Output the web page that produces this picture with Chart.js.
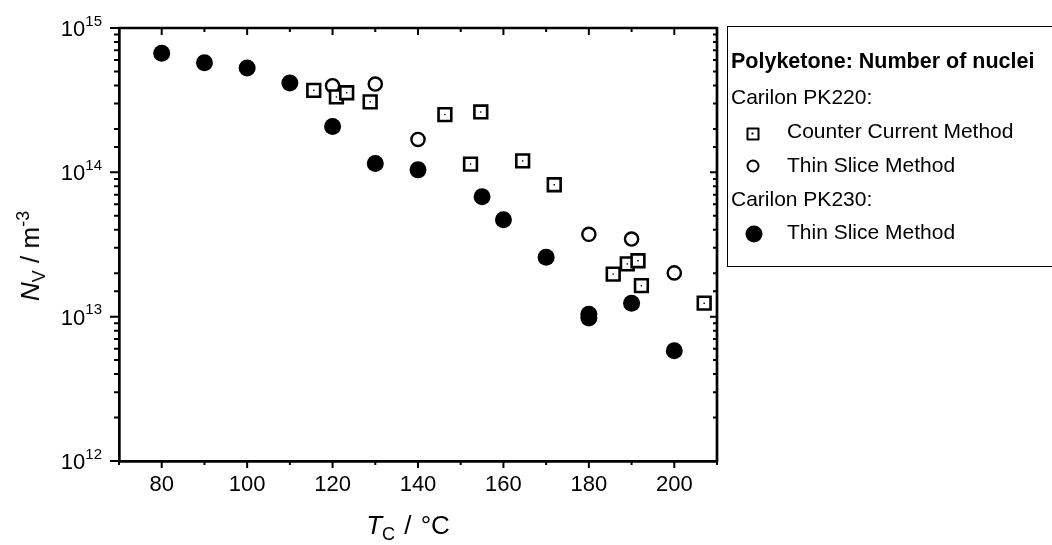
<!DOCTYPE html>
<html>
<head>
<meta charset="utf-8">
<script src="https://cdn.jsdelivr.net/npm/chart.js@4.4.1/dist/chart.umd.min.js"></script>
<style>
  html, body { margin: 0; padding: 0; background: #fff; overflow: hidden; }
  #wrap { position: relative; width: 1052px; height: 545px; font-family: 'Liberation Sans', Arial, Helvetica, sans-serif; color: #000; }
  #chart { position: absolute; left: 0; top: 0; }
  .txt { position: absolute; line-height: 1; white-space: nowrap; transform: translateY(-50%); font-size: 21px; }
  .legbox { position: absolute; left: 727px; top: 26px; width: 340px; height: 239px;
            border: 1.5px solid #000; border-right: none; }
  .mk { position: absolute; transform: translate(-50%, -50%); box-sizing: border-box; }
  .sq { width: 13px; height: 13px; border: 2.5px solid #000; border-radius: 1px; background: #fff; }
  .sq::after { content: ''; position: absolute; left: 3px; top: 3px; width: 2px; height: 2px; background: #000; }
  .oc { width: 13px; height: 13px; border: 2.3px solid #000; border-radius: 50%; }
  .fc { width: 17px; height: 17px; border-radius: 50%; background: #000; }
  .ytitle { position: absolute; left: 30px; top: 256px; font-size: 26px; white-space: nowrap; line-height: 1;
            transform: translate(-50%, -50%) rotate(-90deg); }
  .xtitle { position: absolute; left: 408px; top: 525px; font-size: 26px; white-space: nowrap; line-height: 1;
            transform: translate(-50%, -50%); word-spacing: 2px; }
  sub, sup { font-size: 18px; line-height: 0; }
</style>
</head>
<body>
<div id="wrap">
  <canvas id="chart" width="1052" height="545"></canvas>

  <div class="ytitle"><i>N</i><sub>V</sub> / m<sup>-3</sup></div>
  <div class="xtitle"><i>T</i><sub>C</sub> / °C</div>

  <div class="legbox"></div>
  <div class="txt" style="left:731px; top:62px; font-weight:bold; font-size:21.5px;">Polyketone: Number of nuclei</div>
  <div class="txt" style="left:731px; top:96px;">Carilon PK220:</div>
  <div class="mk sq" style="left:753px; top:134px;"></div>
  <div class="txt" style="left:787px; top:130px;">Counter Current Method</div>
  <div class="mk oc" style="left:753px; top:166px;"></div>
  <div class="txt" style="left:787px; top:164px;">Thin Slice Method</div>
  <div class="txt" style="left:731px; top:198px;">Carilon PK230:</div>
  <div class="mk fc" style="left:754px; top:234px;"></div>
  <div class="txt" style="left:787px; top:231px;">Thin Slice Method</div>
</div>

<script>
// PK220, counter current method (squares)
const ccTemp = [115.6, 120.9, 123.3, 128.8, 146.3, 152.3, 154.7, 164.5, 171.9, 185.7, 189.0, 191.5, 192.3, 207.0];
const ccNuclei = [3.70e14, 3.33e14, 3.56e14, 3.08e14, 2.51e14, 1.14e14, 2.62e14, 1.20e14, 8.2e13, 1.97e13, 2.32e13, 2.44e13, 1.64e13, 1.24e13];

// PK220, thin slice method (open circles)
const ts220Temp = [120, 130, 140, 180, 190, 200];
const ts220Nuclei = [3.98e14, 4.09e14, 1.69e14, 3.72e13, 3.45e13, 2.01e13];

// PK230, thin slice method (filled circles)
const ts230Temp = [80, 90, 100, 110, 120, 130, 140, 155, 160, 170, 180, 180, 190, 200];
const ts230Nuclei = [6.68e14, 5.75e14, 5.28e14, 4.16e14, 2.08e14, 1.15e14, 1.04e14, 6.78e13, 4.7e13, 2.58e13, 1.04e13, 0.98e13, 1.24e13, 5.8e12];

const xTicksMajor = [80, 100, 120, 140, 160, 180, 200];
const yDecades = [12, 13, 14, 15];

const FONT = "'Liberation Sans', Arial, Helvetica, sans-serif";

function pts(xs, ys) {
  return xs.map((x, i) => ({x: x, y: ys[i]}));
}

function decadeOf(v) {
  let e = Math.round(Math.log10(v));
  return Math.abs(Math.pow(10, e) - v) / v < 1e-6 ? e : null;
}

// frame on top/right, tick marks, and 10^n labels with raised exponent
const frameTicks = {
  id: 'frameTicks',
  afterDraw(chart) {
    let ctx = chart.ctx;
    let a = chart.chartArea;
    let x = chart.scales.x, y = chart.scales.y;
    ctx.save();
    ctx.strokeStyle = '#000';
    ctx.lineWidth = 2.7;
    ctx.beginPath();
    ctx.moveTo(a.left - 1, a.top);
    ctx.lineTo(a.right, a.top);
    ctx.lineTo(a.right, a.bottom + 1);
    ctx.stroke();

    ctx.lineWidth = 2;
    ctx.beginPath();
    x.ticks.forEach(t => {
      let px = x.getPixelForValue(t.value);
      let len = xTicksMajor.includes(t.value) ? 7 : 4;
      ctx.moveTo(px, a.bottom); ctx.lineTo(px, a.bottom + len);
      ctx.moveTo(px, a.top); ctx.lineTo(px, a.top + len);
    });
    y.ticks.forEach(t => {
      let py = y.getPixelForValue(t.value);
      let major = yDecades.includes(decadeOf(t.value));
      ctx.moveTo(a.left - (major ? 9 : 5), py); ctx.lineTo(a.left, py);
      ctx.moveTo(a.right - (major ? 7 : 4), py); ctx.lineTo(a.right, py);
    });
    ctx.stroke();

    // y labels
    ctx.fillStyle = '#000';
    ctx.textBaseline = 'alphabetic';
    yDecades.forEach(e => {
      let py = y.getPixelForValue(Math.pow(10, e));
      let right = a.left - 17;
      ctx.font = '15px ' + FONT;
      let ew = ctx.measureText(String(e)).width;
      ctx.textAlign = 'left';
      ctx.fillText(String(e), right - ew, py - 2.5);
      ctx.font = '22px ' + FONT;
      ctx.textAlign = 'right';
      ctx.fillText('10', right - ew, py + 8);
    });
    ctx.restore();
  }
};

let ctx = document.getElementById('chart').getContext('2d');
let chart = new Chart(ctx, {
  type: 'scatter',
  data: {
    datasets: [
      {
        label: 'dots',
        data: pts(ccTemp, ccNuclei),
        pointStyle: 'rect',
        pointRadius: 1,
        backgroundColor: '#000',
        borderWidth: 0,
        order: 0
      },
      {
        label: 'Counter Current Method',
        data: pts(ccTemp, ccNuclei),
        pointStyle: 'rect',
        pointRadius: 9,
        backgroundColor: '#fff',
        borderColor: '#000',
        borderWidth: 2.6,
        order: 1
      },
      {
        label: 'Thin Slice Method (PK220)',
        data: pts(ts220Temp, ts220Nuclei),
        pointStyle: 'circle',
        pointRadius: 6.6,
        backgroundColor: '#fff',
        borderColor: '#000',
        borderWidth: 2.4,
        order: 2
      },
      {
        label: 'Thin Slice Method (PK230)',
        data: pts(ts230Temp, ts230Nuclei),
        pointStyle: 'circle',
        pointRadius: 8.5,
        backgroundColor: '#000',
        borderColor: '#000',
        borderWidth: 0,
        order: 3
      }
    ]
  },
  options: {
    responsive: false,
    animation: false,
    events: [],
    layout: { padding: { left: 0, top: 28, right: 335, bottom: 0 } },
    plugins: {
      legend: { display: false },
      tooltip: { enabled: false }
    },
    scales: {
      x: {
        type: 'linear',
        min: 70,
        max: 210,
        afterFit: s => { s.height = 84; },
        grid: { display: false, drawTicks: false },
        border: { display: true, color: '#000', width: 2.7 },
        ticks: {
          stepSize: 10,
          autoSkip: false,
          maxRotation: 0,
          padding: 11,
          color: '#000',
          font: { family: FONT, size: 22 },
          callback: v => xTicksMajor.includes(v) ? String(v) : ''
        }
      },
      y: {
        type: 'logarithmic',
        min: 1e12,
        max: 1e15,
        afterFit: s => { s.width = 119; },
        grid: { display: false, drawTicks: false },
        border: { display: true, color: '#000', width: 2.7 },
        ticks: { display: false, autoSkip: false }
      }
    }
  },
  plugins: [frameTicks]
});
</script>
</body>
</html>
